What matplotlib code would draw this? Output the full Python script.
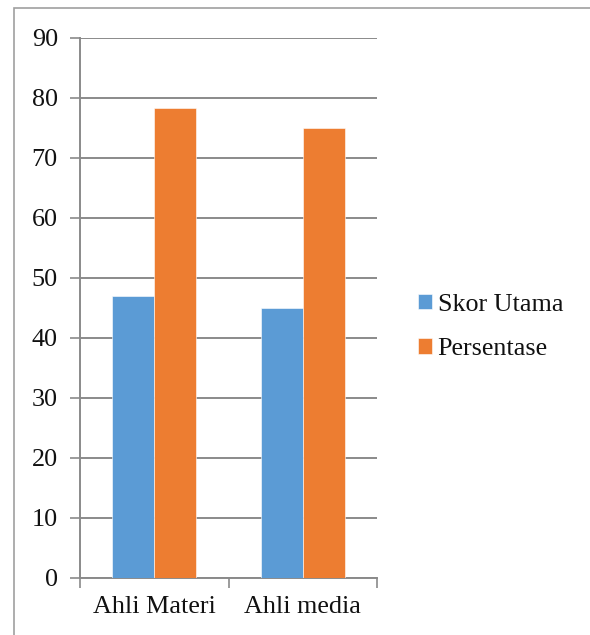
import matplotlib
matplotlib.use("Agg")
import matplotlib.pyplot as plt
from matplotlib.patches import Rectangle
import numpy as np

categories = ["Ahli Materi", "Ahli media"]
series_names = ["Skor Utama", "Persentase"]
skor_utama = [47, 45]
persentase = [78.3, 75]
yticks = [0, 10, 20, 30, 40, 50, 60, 70, 80, 90]

colors = ["#5B9BD5", "#ED7D31"]
grid_c = "#8a8a8a"
fs = 18.8

plt.rcParams['font.family'] = ['Liberation Serif', 'DejaVu Serif']
W, H = 590, 635
fig = plt.figure(figsize=(W / 100, H / 100), dpi=100)

# outer chart border (top and left visible)
fig.patches.append(Rectangle((14 / W, -0.2), 1.5, 1.2 - 8 / H,
                             transform=fig.transFigure, fill=False,
                             edgecolor="#a0a0a0", linewidth=1.2))

ax = fig.add_axes([80 / W, 57 / H, (377 - 80) / W, 540 / H])
x = np.arange(len(categories))
bw = 42 / 148.5
ax.bar(x - bw / 2, skor_utama, bw, color=colors[0], label=series_names[0],
       edgecolor="white", linewidth=0.4, zorder=3)
ax.bar(x + bw / 2, persentase, bw, color=colors[1], label=series_names[1],
       edgecolor="white", linewidth=0.4, zorder=3)

ax.set_xlim(-0.5, len(categories) - 0.5)
ax.set_ylim(0, 90)
ax.set_yticks(yticks)
ax.set_yticklabels([str(v) for v in yticks], fontsize=fs, color="#111111")
ax.yaxis.grid(True, color=grid_c, linewidth=1.4, zorder=0)
ax.set_axisbelow(True)

ax.set_xticks(np.arange(-0.5, len(categories), 1.0))
ax.set_xticklabels([])
ax.set_xticks(x, minor=True)
ax.set_xticklabels(categories, minor=True, fontsize=fs, color="#111111")
ax.tick_params(axis='x', which='major', length=7, color=grid_c, width=1.2)
ax.tick_params(axis='x', which='minor', length=0, pad=13)
ax.tick_params(axis='y', length=7, color=grid_c, width=1.2, pad=9)

for s in ["top", "right"]:
    ax.spines[s].set_visible(False)
for s in ["left", "bottom"]:
    ax.spines[s].set_color(grid_c)
    ax.spines[s].set_linewidth(1.4)

leg = fig.legend(loc="center left", bbox_to_anchor=(418 / W, 1 - 327 / H),
                 frameon=False, fontsize=fs, handlelength=0.53, handleheight=0.53,
                 handletextpad=0.22, labelspacing=0.85, borderpad=0,
                 borderaxespad=0)
for t in leg.get_texts():
    t.set_color("#111111")

fig.savefig("out.png", dpi=100)
